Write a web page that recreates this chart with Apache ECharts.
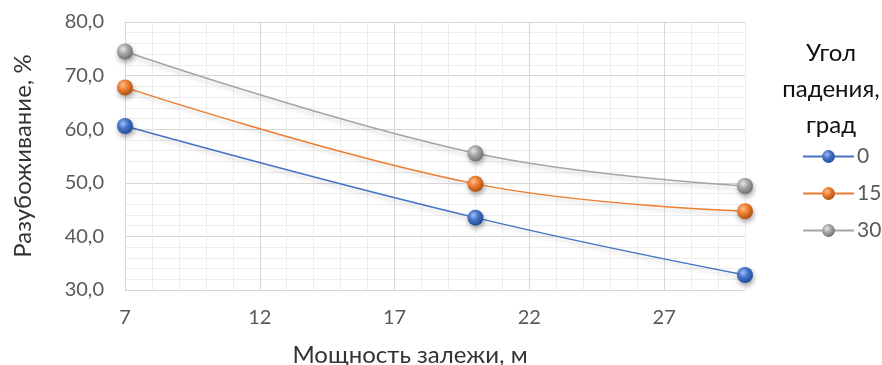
<!DOCTYPE html>
<html><head><meta charset="utf-8">
<script src="https://cdn.jsdelivr.net/npm/echarts@6/dist/echarts.min.js"></script>
<style>html,body{margin:0;padding:0;background:#fff}#c{width:882px;height:365px}</style>
</head><body><div id="c"></div>
<script>
const xValues = [7, 20, 30];
const seriesNames = ['0', '15', '30'];
const values0 = [60.6, 43.5, 32.8];
const values15 = [67.8, 49.8, 44.7];
const values30 = [74.5, 55.5, 49.4];
const xTickLabels = [7, 12, 17, 22, 27];
const yTickLabels = [30, 40, 50, 60, 70, 80];
const xTitle = 'Мощность залежи, м';
const yTitle = 'Разубоживание, %';
const legendTitle = 'Угол\nпадения,\nград';

const FONT = 'Lato, "Open Sans", "Noto Sans", sans-serif';
const TXT = '#595959';
const colors = [
  {base:'#4472C4', light:'#9fc0ff', dark:'#1f4a99'},
  {base:'#ED7D31', light:'#ffc08a', dark:'#a84a0c'},
  {base:'#A5A5A5', light:'#e6e6e6', dark:'#6b6b6b'}
];
function sphere(c){
  return {type:'radial', x:0.38, y:0.35, r:0.7, colorStops:[
    {offset:0, color:c.light},{offset:0.45, color:c.base},{offset:1, color:c.dark}]};
}
const dataSets = [values0, values15, values30];
const MAJ = '#d6d6d6', MIN = '#ededed';

const chart = echarts.init(document.getElementById('c'), null, {renderer:'canvas'});
chart.setOption({
  animation:false,
  textStyle:{fontFamily:FONT},
  grid:{left:125, right:137, top:22, bottom:75, containLabel:false},
  title:[
    {text:legendTitle, left:826, top:30, textAlign:'center',
      textStyle:{fontFamily:FONT, fontSize:24, fontWeight:'normal', color:'#111', lineHeight:36}},
    {text:xTitle, left:405, top:338, textAlign:'center',
      textStyle:{fontFamily:FONT, fontSize:24, fontWeight:'normal', color:'#333'}}
  ],
  legend:{orient:'vertical', left:797, top:141, itemWidth:51, itemHeight:16, itemGap:16,
    data:seriesNames, textStyle:{fontFamily:FONT, fontSize:21, color:TXT, padding:[0,0,0,-2]}},
  xAxis:{type:'value', min:7, max:30, interval:1,
    axisLine:{show:false}, axisTick:{show:false},
    axisLabel:{color:TXT, fontSize:20, fontFamily:FONT, margin:18, showMaxLabel:false,
      formatter:v => xTickLabels.indexOf(v) >= 0 ? String(v) : ''},
    splitLine:{show:true, lineStyle:{color:[MAJ, MIN, MIN, MIN, MIN], width:1}}},
  yAxis:{type:'value', min:30, max:80, interval:2,
    name:yTitle, nameLocation:'middle', nameGap:90, nameRotate:90,
    nameTextStyle:{fontFamily:FONT, fontSize:24, color:'#333'},
    axisLine:{show:false}, axisTick:{show:false},
    axisLabel:{color:TXT, fontSize:20, fontFamily:FONT, margin:21,
      formatter:v => yTickLabels.indexOf(v) >= 0 ? v.toFixed(1).replace('.', ',') : ''},
    splitLine:{show:true, lineStyle:{color:[MAJ, MIN, MIN, MIN, MIN], width:1}}},
  series: seriesNames.map((n, i) => ({
    name:n, type:'line', smooth:0.4,
    data: xValues.map((x, j) => [x, dataSets[i][j]]),
    symbol:'circle', symbolSize:16,
    lineStyle:{color:colors[i].base, width:1.5, shadowColor:'rgba(0,0,0,0.2)', shadowBlur:4, shadowOffsetY:3},
    itemStyle:{color:sphere(colors[i]), borderWidth:0, shadowColor:'rgba(0,0,0,0.35)', shadowBlur:5, shadowOffsetX:1, shadowOffsetY:3},
    emphasis:{disabled:true}
  }))
});
</script></body></html>
